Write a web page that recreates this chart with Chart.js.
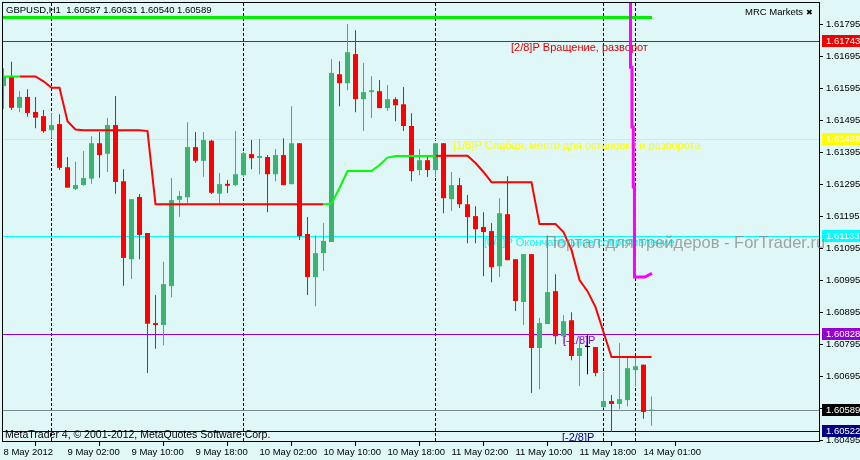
<!DOCTYPE html>
<html>
<head>
<meta charset="utf-8">
<script src="https://cdn.jsdelivr.net/npm/chart.js@4.4.0/dist/chart.umd.min.js"></script>
<style>
  html, body { margin: 0; padding: 0; background: #e0f7f7; }
</style>
</head>
<body>
<canvas id="c" width="860" height="460"></canvas>
<script>
// GBPUSD H1, one entry per bar (index 0 = 8 May 2012 18:00)
const opens = [1.61603,1.61632,1.61535,1.61569,1.61522,1.61509,1.61465,1.61484,1.61349,1.61281,
  1.61293,1.61313,1.61424,1.61391,1.61481,1.61305,1.61061,1.61256,1.61143,1.60861,
  1.60855,1.60977,1.61247,1.61255,1.61412,1.61369,1.61432,1.61266,1.61297,1.61293,
  1.61324,1.61390,1.61378,1.61381,1.61327,1.61387,1.61296,1.61424,1.61140,1.61005,
  1.61080,1.61115,1.61640,1.61612,1.61703,1.61562,1.61584,1.61587,1.61534,1.61562,
  1.61546,1.61478,1.61340,1.61371,1.61340,1.61424,1.61249,1.61293,1.61233,1.61196,
  1.61162,1.61149,1.61039,1.61202,1.61061,1.60927,1.61077,1.60783,1.60858,1.60961,
  1.60820,1.60870,1.60758,1.60786,1.60786,1.60598,1.60617,1.60608,1.60620,1.60714,
  1.60731,1.60587];
const highs = [1.61659,1.61679,1.61587,1.61593,1.61569,1.61528,1.61518,1.61515,1.61381,1.61366,
  1.61400,1.61446,1.61459,1.61503,1.61572,1.61343,1.61249,1.61265,1.61143,1.60949,
  1.61053,1.61315,1.61274,1.61490,1.61459,1.61459,1.61435,1.61331,1.61309,1.61462,
  1.61397,1.61434,1.61437,1.61387,1.61406,1.61440,1.61540,1.61424,1.61193,1.61136,
  1.61174,1.61687,1.61681,1.61797,1.61778,1.61675,1.61634,1.61622,1.61606,1.61568,
  1.61600,1.61518,1.61406,1.61387,1.61424,1.61424,1.61334,1.61315,1.61262,1.61227,
  1.61208,1.61174,1.61252,1.61321,1.61061,1.61077,1.61077,1.60877,1.61136,1.61014,
  1.60886,1.60895,1.60820,1.60823,1.60786,1.60708,1.60636,1.60799,1.60752,1.60756,
  1.60731,1.60631];
const lows = [1.61531,1.61528,1.61521,1.61507,1.61471,1.61457,1.61440,1.61340,1.61285,1.61278,
  1.61291,1.61297,1.61316,1.61334,1.61266,1.60978,1.60999,1.61061,1.60705,1.60781,
  1.60792,1.60942,1.61194,1.61236,1.61363,1.61319,1.61265,1.61233,1.61268,1.61290,
  1.61319,1.61343,1.61327,1.61208,1.61305,1.61293,1.61296,1.61121,1.60949,1.60914,
  1.61024,1.61115,1.61540,1.61590,1.61521,1.61462,1.61503,1.61534,1.61525,1.61493,
  1.61462,1.61305,1.61324,1.61318,1.61318,1.61205,1.61212,1.61221,1.61111,1.61111,
  1.61008,1.60989,1.61005,1.61058,1.60899,1.60855,1.60642,1.60654,1.60858,1.60795,
  1.60795,1.60745,1.60664,1.60701,1.60695,1.60595,1.60521,1.60592,1.60601,1.60662,
  1.60562,1.60540];
const closes = [1.61632,1.61535,1.61569,1.61519,1.61504,1.61462,1.61481,1.61347,1.61285,1.61293,
  1.61315,1.61424,1.61387,1.61481,1.61303,1.61065,1.61249,1.61137,1.60859,1.60855,
  1.60983,1.61246,1.61259,1.61412,1.61369,1.61434,1.61269,1.61296,1.61291,1.61327,
  1.61393,1.61377,1.61384,1.61327,1.61387,1.61293,1.61424,1.61133,1.61005,1.61080,
  1.61118,1.61644,1.61612,1.61709,1.61562,1.61584,1.61590,1.61534,1.61562,1.61543,
  1.61478,1.61337,1.61371,1.61340,1.61424,1.61252,1.61293,1.61233,1.61193,1.61155,
  1.61146,1.61036,1.61205,1.61058,1.60930,1.61077,1.60783,1.60861,1.60958,1.60820,
  1.60867,1.60758,1.60783,1.60786,1.60705,1.60617,1.60608,1.60623,1.60720,1.60726,
  1.60583,1.60589];

// trailing stop style indicator, one value per bar
const mrcLine = [1.61633,1.61633,1.61633,1.61633,1.61633,1.61618,1.61598,1.61598,1.61493,1.61467,
  1.61465,1.61465,1.61465,1.61465,1.61465,1.61465,1.61465,1.61465,1.61462,1.61233,
  1.61233,1.61233,1.61233,1.61233,1.61233,1.61233,1.61233,1.61233,1.61233,1.61233,
  1.61233,1.61233,1.61233,1.61233,1.61233,1.61233,1.61233,1.61233,1.61233,1.61233,
  1.61233,1.61235,1.61284,1.61337,1.61337,1.61337,1.61337,1.61356,1.61379,1.61384,
  1.61384,1.61384,1.61384,1.61384,1.61384,1.61385,1.61385,1.61385,1.61385,1.61362,
  1.61334,1.61302,1.61302,1.61302,1.61302,1.61302,1.61302,1.61171,1.61171,1.61171,
  1.61146,1.61090,1.60996,1.60961,1.60911,1.60833,1.60755,1.60755,1.60755,1.60755,
  1.60755,1.60755];
const upSpans = [[0, 2], [40, 54]];
const downSpans = [[2, 40], [54, 81]];

// projection line (magenta)
const projX = [78.375, 78.375, 78.56, 78.56, 78.72, 78.72, 78.87, 78.87, 80.19, 81.06];
const projY = [1.6190, 1.61662, 1.61662, 1.61475, 1.61475, 1.61287, 1.61287, 1.61005, 1.61005, 1.61017];

// green top line
const topLineX = [-1, 81.06];
const topLineY = [1.61818, 1.61818];

// Murrey levels
const levels = [1.61743, 1.61438, 1.61133, 1.60828, 1.60522];
const levelNames = ['[2/8]P Вращение, разворот', '[1/8]P Слабая, место для остановки и разворота',
  '[0/8]P Окончательное сопротивление', '[-1/8]P', '[-2/8]P'];
const levelColors = ['#e00000', '#ffff00', '#00ffff', '#9400d3', '#000080'];
const levelTextAt = [63.44, 56.19, 60.06, 69.94, 69.81];
const bid = 1.60589;

const daySeps = [6, 30, 54, 75, 79];
const xTickIdx = [0, 8, 16, 24, 32, 40, 48, 56, 64, 72, 80];
const xLabels = ['8 May 2012', '9 May 02:00', '9 May 10:00', '9 May 18:00', '10 May 02:00', '10 May 10:00',
  '10 May 18:00', '11 May 02:00', '11 May 10:00', '11 May 18:00', '14 May 01:00'];
const yTicks = [1.61795, 1.61695, 1.61595, 1.61495, 1.61395, 1.61295, 1.61195, 1.61095,
  1.60995, 1.60895, 1.60795, 1.60695, 1.60595, 1.60495];

const BG = '#e0f7f7';
const UP = '#3cb371', DOWN = '#ff0000', DOJI = '#000000';
const FONT = "'Liberation Sans', Arial, sans-serif";

const candleColors = opens.map((o, i) => closes[i] > o ? UP : (closes[i] < o ? DOWN : DOJI));
const inSpan = (i, spans) => spans.some(([a, b]) => i >= a && i <= b);

const mtPlugin = {
  id: 'mt',
  beforeDraw(chart) {
    const ctx = chart.ctx;
    ctx.save();
    ctx.fillStyle = BG;
    ctx.fillRect(0, 0, chart.width, chart.height);
    ctx.restore();
  },
  beforeDatasetsDraw(chart) {
    const { ctx, chartArea: a, scales: { x, y } } = chart;
    ctx.save();
    ctx.beginPath();
    ctx.rect(a.left, a.top, a.right - a.left, a.bottom - a.top);
    ctx.clip();

    ctx.lineWidth = 1;
    ctx.strokeStyle = '#000';
    ctx.setLineDash([3, 2]);
    daySeps.forEach(i => {
      const xx = Math.floor(x.getPixelForValue(i)) + 0.5;
      ctx.beginPath();
      ctx.moveTo(xx, a.top);
      ctx.lineTo(xx, a.bottom);
      ctx.stroke();
    });
    ctx.setLineDash([]);

    const hline = (v, color) => {
      const yy = Math.round(y.getPixelForValue(v)) + 0.5;
      ctx.strokeStyle = color;
      ctx.beginPath();
      ctx.moveTo(a.left, yy);
      ctx.lineTo(a.right, yy);
      ctx.stroke();
    };
    levels.forEach((v, k) => hline(v, levelColors[k]));
    hline(bid, '#778899');

    ctx.font = '11px ' + FONT;
    ctx.textBaseline = 'top';
    ctx.textAlign = 'left';
    levels.forEach((v, k) => {
      ctx.fillStyle = levelColors[k];
      ctx.fillText(levelNames[k], x.getPixelForValue(levelTextAt[k]), Math.round(y.getPixelForValue(v)) + 1);
    });
    ctx.restore();
  },
  afterDraw(chart) {
    const { ctx, chartArea: a, scales: { y } } = chart;
    ctx.save();
    ctx.strokeStyle = '#000';
    ctx.lineWidth = 1;
    ctx.strokeRect(a.left - 0.5, a.top - 0.5, a.right - a.left + 1, a.bottom - a.top + 1);

    const box = (v, bg) => {
      const yy = Math.round(y.getPixelForValue(v));
      ctx.fillStyle = bg;
      ctx.fillRect(a.right + 3, yy - 6, 38, 12);
      ctx.fillStyle = '#fff';
      ctx.font = '9.5px ' + FONT;
      ctx.textBaseline = 'middle';
      ctx.textAlign = 'left';
      ctx.fillText(v.toFixed(5), a.right + 7, yy + 0.5);
    };
    levels.forEach((v, k) => box(v, levelColors[k] === '#e00000' ? '#f00000' : levelColors[k]));
    box(bid, '#000');

    ctx.font = '16.5px ' + FONT;
    ctx.textBaseline = 'middle';
    ctx.textAlign = 'left';
    ctx.fillStyle = 'rgba(128,128,128,0.7)';
    ctx.fillText('Портал для трейдеров - ForTrader.ru', 545, 243);

    ctx.fillStyle = '#000';
    ctx.font = '9.5px ' + FONT;
    const last = opens.length - 1;
    ctx.fillText('GBPUSD,H1  ' + [opens[last], highs[last], lows[last], closes[last]].map(v => v.toFixed(5)).join(' '), 6, 10);
    ctx.fillText('MRC Markets', 745, 12);
    ctx.font = '8px DejaVu Sans';
    ctx.fillText('✖', 806, 13);
    ctx.font = '10.5px ' + FONT;
    ctx.fillText('MetaTrader 4, © 2001-2012, MetaQuotes Software Corp.', 5, 435);
    ctx.restore();
  }
};

new Chart(document.getElementById('c'), {
  type: 'bar',
  data: {
    datasets: [
      {
        type: 'line', order: 1,
        data: mrcLine.map((v, i) => ({ x: i, y: inSpan(i, upSpans) ? v : null })),
        borderColor: '#00ff00', borderWidth: 2, pointRadius: 0, tension: 0, spanGaps: false
      },
      {
        type: 'line', order: 1,
        data: mrcLine.map((v, i) => ({ x: i, y: inSpan(i, downSpans) ? v : null })),
        borderColor: '#ff0000', borderWidth: 2, pointRadius: 0, tension: 0, spanGaps: false
      },
      {
        type: 'line', order: 1,
        data: projX.map((v, i) => ({ x: v, y: projY[i] })),
        borderColor: '#ff00ff', borderWidth: 3, pointRadius: 0, tension: 0
      },
      {
        type: 'line', order: 1,
        data: topLineX.map((v, i) => ({ x: v, y: topLineY[i] })),
        borderColor: '#00ee00', borderWidth: 3, pointRadius: 0, tension: 0
      },
      {
        type: 'bar', order: 2,
        data: opens.map((o, i) => ({ x: i, y: [o, closes[i]] })),
        backgroundColor: candleColors, borderWidth: 0,
        barThickness: 5, minBarLength: 1, grouped: false, inflateAmount: 0
      },
      {
        type: 'bar', order: 3,
        data: lows.map((l, i) => ({ x: i, y: [l, highs[i]] })),
        backgroundColor: candleColors, borderWidth: 0,
        barThickness: 1, grouped: false, inflateAmount: 0
      }
    ]
  },
  options: {
    responsive: false,
    animation: false,
    events: [],
    layout: { padding: { left: 3, top: 3, right: 0, bottom: 0 } },
    plugins: { legend: { display: false }, tooltip: { enabled: false } },
    scales: {
      x: {
        type: 'linear', min: -0.0625, max: 101.9375, offset: false,
        grid: { drawOnChartArea: false, drawTicks: true, tickLength: 5, color: '#000', tickColor: '#000' },
        border: { display: true, color: '#000' },
        afterBuildTicks: s => { s.ticks = xTickIdx.map(v => ({ value: v })); },
        afterFit: s => { s.height = 19; s.paddingLeft = 0; s.paddingRight = 0; },
        ticks: {
          autoSkip: false, maxRotation: 0, minRotation: 0, align: 'start', padding: 1,
          color: '#000', font: { family: FONT, size: 9.5 },
          callback: v => xLabels[xTickIdx.indexOf(v)]
        }
      },
      y: {
        type: 'linear', position: 'right', min: 1.60492, max: 1.61863,
        grid: { drawOnChartArea: false, drawTicks: true, tickLength: 4, color: '#000', tickColor: '#000' },
        border: { display: true, color: '#000' },
        afterBuildTicks: s => { s.ticks = yTicks.map(v => ({ value: v })); },
        afterFit: s => { s.width = 41; s.paddingTop = 0; s.paddingBottom = 0; },
        ticks: {
          autoSkip: false, padding: 3, color: '#000', font: { family: FONT, size: 9.5 },
          callback: v => v.toFixed(5)
        }
      }
    }
  },
  plugins: [mtPlugin]
});
</script>
</body>
</html>
